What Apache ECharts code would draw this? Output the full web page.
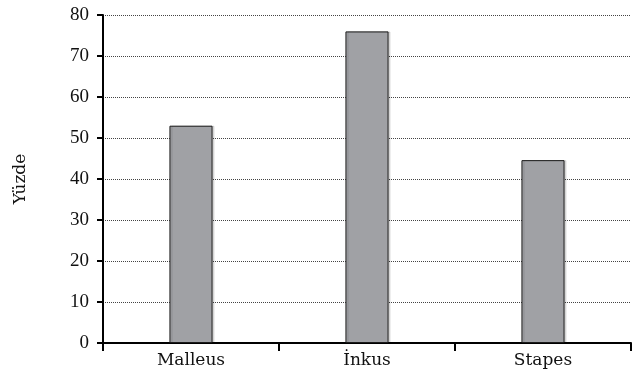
<!DOCTYPE html>
<html><head><meta charset="utf-8">
<script src="https://cdn.jsdelivr.net/npm/echarts@6/dist/echarts.min.js"></script>
<style>html,body{margin:0;padding:0;background:#fff}#c{width:640px;height:374px}</style>
</head><body><div id="c"></div>
<script>
const categories = ["Malleus", "İnkus", "Stapes"];
const values = [53, 76, 44.6];
const yTicks = [0, 10, 20, 30, 40, 50, 60, 70, 80];
const yName = "Yüzde";
const fontText = "'DejaVu Serif', 'Liberation Serif', serif";
const fontNum = "'Liberation Serif', 'DejaVu Serif', serif";
const chart = echarts.init(document.getElementById('c'));
chart.setOption({
  animation: false,
  grid: { left: 103, right: 9, top: 15, bottom: 31 },
  xAxis: {
    type: 'category', data: categories,
    axisLine: { lineStyle: { color: '#000', width: 2 } },
    axisTick: { show: true, length: 8, lineStyle: { color: '#000', width: 2 } },
    axisLabel: { color: '#111', fontFamily: fontText, fontSize: 17, margin: 9 },
    splitLine: { show: false }
  },
  yAxis: {
    type: 'value', min: yTicks[0], max: yTicks[yTicks.length - 1], interval: 10,
    name: yName, nameLocation: 'middle', nameGap: 74, nameRotate: 90,
    nameTextStyle: { color: '#111', fontFamily: fontText, fontSize: 17 },
    axisLine: { show: true, lineStyle: { color: '#000', width: 2 } },
    axisTick: { show: true, length: 6, lineStyle: { color: '#000', width: 2 } },
    axisLabel: { color: '#111', fontFamily: fontNum, fontSize: 19, margin: 14 },
    splitLine: { show: true, lineStyle: { color: '#444', width: 1, type: [1, 1] } }
  },
  series: [{
    type: 'bar', data: values, barWidth: '24.5%',
    itemStyle: { color: '#a0a1a5', borderColor: '#1a1a1a', borderWidth: 1,
      shadowColor: 'rgba(0,0,0,0.12)', shadowOffsetX: 2, shadowOffsetY: 0, shadowBlur: 0 }
  }]
});
</script></body></html>
